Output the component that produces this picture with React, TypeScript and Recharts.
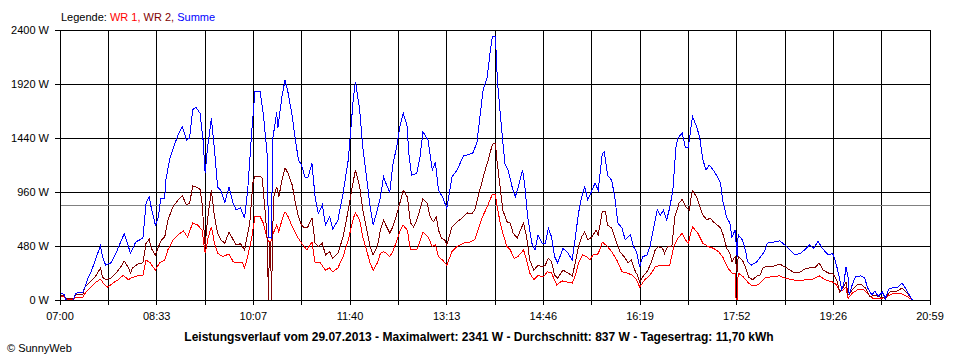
import { LineChart, Line, XAxis, YAxis, CartesianGrid, ReferenceLine } from "recharts";

// minutes after 07:00, watts
const wr1: [number, number][] = [
  [0, 35], [4, 35], [6, 5], [13, 5], [15, 25], [22, 25], [25, 70], [30, 115], [35, 160], [39, 185],
  [43, 135], [46, 115], [51, 150], [56, 180], [61, 220], [66, 180], [68, 195], [75, 215], [80, 220], [83, 355],
  [87, 330], [92, 265], [96, 330], [101, 355], [104, 445], [109, 535], [114, 580], [119, 615], [123, 560], [128, 685],
  [133, 665], [137, 620], [140, 415], [143, 560], [146, 650], [149, 505], [152, 415], [157, 385], [163, 410], [167, 340],
  [170, 330], [176, 330], [178, 285], [181, 385], [185, 560], [188, 740], [193, 740], [196, 685], [200, 535], [203, 505],
  [205, 580], [209, 665], [211, 605], [214, 710], [217, 785], [220, 740], [224, 650], [229, 560], [233, 505], [238, 445],
  [243, 515], [246, 330], [251, 330], [256, 265], [260, 285], [263, 250], [268, 285], [273, 385], [278, 535], [283, 730],
  [285, 775], [289, 710], [292, 560], [296, 430], [299, 330], [302, 265], [306, 330], [309, 415], [312, 430], [315, 415],
  [318, 385], [321, 430], [325, 535], [328, 620], [331, 665], [335, 620], [338, 445], [344, 445], [347, 515], [350, 605],
  [355, 560], [359, 475], [362, 490], [365, 385], [369, 355], [373, 310], [378, 430], [383, 475], [389, 505], [395, 515],
  [400, 535], [403, 620], [407, 730], [412, 830], [417, 940], [420, 935], [421, 860], [424, 710], [427, 595], [431, 475],
  [434, 450], [438, 370], [442, 390], [447, 445], [450, 355], [453, 240], [457, 180], [461, 220], [466, 205], [470, 250],
  [474, 240], [479, 135], [484, 170], [489, 160], [494, 150], [497, 220], [500, 330], [504, 400], [508, 385], [511, 355],
  [514, 400], [519, 410], [523, 515], [528, 475], [532, 430], [537, 355], [542, 250], [547, 240], [552, 220], [556, 180],
  [559, 115], [564, 180], [569, 220], [574, 295], [579, 310], [583, 310], [588, 310], [592, 475], [596, 550], [600, 595],
  [603, 535], [606, 505], [609, 620], [610, 650], [615, 595], [620, 505], [625, 475], [630, 460], [635, 430], [639, 385],
  [644, 285], [648, 240], [651, 240], [652, 0], [653, 0], [654, 240], [659, 205], [664, 150], [668, 125], [673, 135],
  [680, 195], [685, 205], [694, 215], [699, 195], [706, 180], [714, 170], [720, 185], [726, 185], [732, 215], [738, 180],
  [745, 160], [749, 135], [752, 70], [755, 90], [758, 115], [760, 15], [764, 60], [769, 90], [775, 90], [779, 55],
  [784, 15], [791, 10], [797, 30], [803, 55], [812, 55], [817, 30], [822, 0],
];

const wr2: [number, number][] = [
  [0, 40], [4, 40], [6, 10], [13, 10], [15, 45], [22, 45], [24, 115], [29, 160], [34, 205], [39, 285],
  [41, 205], [44, 180], [49, 195], [54, 240], [58, 285], [62, 345], [66, 285], [68, 240], [70, 285], [75, 320],
  [80, 330], [83, 505], [86, 540], [88, 460], [92, 400], [95, 475], [98, 535], [101, 560], [104, 710], [109, 830],
  [114, 890], [118, 925], [122, 845], [125, 860], [128, 1015], [131, 1005], [135, 985], [137, 860], [140, 475], [142, 695],
  [146, 975], [149, 740], [152, 595], [155, 535], [159, 505], [163, 605], [167, 535], [170, 490], [174, 500], [178, 445],
  [183, 685], [186, 1040], [188, 1100], [193, 1100], [195, 1085], [198, 770], [200, 515], [201, 0], [202, 515], [203, 515],
  [204, 0], [205, 550], [206, 915], [209, 1005], [211, 915], [214, 1065], [217, 1175], [220, 1125], [224, 1020], [227, 860],
  [230, 740], [233, 665], [236, 640], [239, 650], [243, 730], [246, 505], [249, 475], [253, 505], [256, 400], [260, 430],
  [263, 370], [268, 415], [273, 560], [278, 800], [283, 1065], [285, 1155], [289, 1005], [292, 800], [296, 620], [299, 475],
  [302, 400], [306, 475], [309, 620], [312, 710], [315, 650], [318, 595], [321, 650], [325, 770], [328, 870], [331, 975],
  [335, 915], [338, 685], [341, 650], [344, 710], [347, 800], [350, 900], [354, 860], [357, 740], [360, 695], [363, 740],
  [365, 620], [368, 550], [371, 535], [373, 490], [378, 650], [383, 695], [388, 730], [393, 775], [397, 765], [400, 800],
  [403, 915], [407, 1050], [410, 1155], [413, 1245], [417, 1385], [420, 1395], [421, 1270], [424, 1040], [427, 800], [431, 695],
  [434, 685], [437, 595], [441, 550], [444, 620], [447, 685], [450, 560], [453, 355], [457, 265], [461, 310], [465, 295],
  [468, 310], [471, 370], [474, 340], [477, 220], [480, 195], [485, 265], [490, 240], [494, 215], [497, 330], [500, 475],
  [503, 560], [506, 605], [509, 535], [513, 560], [517, 620], [519, 580], [523, 785], [526, 790], [528, 665], [532, 640],
  [537, 505], [540, 430], [544, 385], [548, 330], [551, 355], [555, 250], [557, 220], [559, 160], [562, 205], [567, 265],
  [571, 355], [574, 445], [577, 475], [581, 460], [583, 415], [586, 475], [590, 475], [593, 740], [597, 860], [600, 895],
  [604, 820], [607, 800], [609, 935], [610, 970], [614, 915], [617, 830], [620, 755], [624, 710], [627, 730], [630, 695],
  [634, 665], [637, 640], [639, 595], [643, 460], [646, 415], [648, 340], [651, 385], [653, 250], [654, 385], [658, 355],
  [661, 295], [664, 205], [668, 180], [673, 220], [675, 220], [678, 285], [682, 300], [688, 300], [694, 320], [699, 295],
  [704, 265], [709, 240], [714, 250], [718, 275], [723, 285], [728, 285], [732, 330], [736, 265], [741, 240], [745, 240],
  [749, 180], [752, 70], [755, 105], [758, 160], [760, 45], [764, 90], [769, 135], [773, 135], [777, 105], [781, 30],
  [786, 45], [791, 25], [796, 15], [800, 70], [807, 80], [812, 105], [817, 60], [822, 0],
];

const summe: [number, number][] = [
  [0, 60], [4, 50], [6, 0], [13, 0], [15, 60], [22, 70], [24, 115], [27, 195], [30, 250], [34, 355],
  [39, 480], [41, 385], [44, 310], [49, 330], [54, 415], [58, 505], [62, 590], [66, 475], [68, 415], [73, 515],
  [80, 550], [83, 860], [86, 915], [88, 820], [92, 665], [95, 740], [97, 900], [101, 905], [102, 1065], [106, 1260],
  [111, 1395], [114, 1470], [118, 1540], [122, 1420], [125, 1440], [128, 1690], [131, 1715], [135, 1660], [138, 1420], [140, 1125],
  [142, 1330], [146, 1615], [149, 1330], [152, 1005], [155, 975], [159, 870], [163, 1005], [167, 860], [170, 800], [174, 820],
  [178, 730], [181, 975], [185, 1510], [188, 1850], [193, 1850], [196, 1660], [200, 1275], [201, 560], [204, 550], [205, 1420],
  [209, 1670], [210, 1525], [214, 1805], [217, 1955], [220, 1840], [224, 1630], [227, 1420], [230, 1245], [233, 1200], [236, 1095],
  [239, 1085], [243, 1215], [246, 915], [249, 770], [253, 845], [256, 665], [260, 740], [263, 630], [268, 710], [273, 950],
  [278, 1245], [283, 1805], [285, 1940], [289, 1690], [292, 1360], [296, 1065], [299, 830], [302, 665], [306, 800], [309, 915],
  [312, 1095], [315, 1020], [318, 960], [321, 1200], [325, 1380], [328, 1555], [331, 1660], [335, 1540], [336, 1330], [339, 1110],
  [344, 1125], [347, 1260], [350, 1495], [355, 1420], [359, 1155], [362, 1225], [365, 975], [369, 915], [373, 815], [378, 1095],
  [383, 1155], [389, 1280], [393, 1290], [398, 1305], [402, 1395], [405, 1630], [408, 1865], [412, 1980], [415, 2220], [417, 2340],
  [420, 2341], [421, 2105], [422, 1930], [426, 1510], [429, 1215], [432, 1155], [436, 1005], [439, 915], [442, 1005], [446, 1155],
  [448, 1040], [451, 740], [455, 505], [458, 445], [461, 580], [465, 505], [468, 505], [471, 640], [474, 560], [477, 385],
  [480, 330], [485, 460], [490, 415], [494, 355], [497, 560], [500, 770], [503, 915], [506, 1005], [509, 890], [513, 975],
  [516, 1040], [519, 975], [523, 1305], [525, 1315], [528, 1110], [532, 1065], [535, 915], [538, 685], [542, 640], [545, 535],
  [550, 580], [553, 475], [556, 430], [559, 295], [562, 385], [566, 400], [569, 475], [572, 620], [576, 800], [579, 755],
  [582, 800], [585, 710], [588, 820], [591, 975], [594, 1360], [596, 1440], [600, 1485], [603, 1360], [606, 1360], [609, 1570],
  [610, 1630], [614, 1540], [617, 1440], [620, 1245], [623, 1155], [626, 1200], [630, 1155], [634, 1095], [637, 1040], [639, 890],
  [643, 730], [646, 685], [648, 560], [651, 620], [653, 385], [654, 580], [658, 535], [661, 445], [663, 340], [667, 310],
  [672, 340], [677, 400], [680, 445], [682, 505], [688, 515], [694, 525], [699, 490], [704, 445], [709, 400], [714, 415],
  [718, 445], [723, 490], [727, 460], [731, 525], [735, 460], [738, 430], [741, 400], [745, 415], [747, 370], [750, 265],
  [754, 90], [756, 150], [758, 295], [760, 205], [761, 45], [764, 135], [767, 205], [772, 215], [776, 195], [779, 105],
  [783, 45], [786, 80], [789, 30], [793, 70], [796, 15], [799, 95], [803, 110], [808, 115], [812, 150], [815, 110],
  [818, 60], [822, 0],
];

const xTickLabels = ["07:00", "08:33", "10:07", "11:40", "13:13", "14:46", "16:19", "17:52", "19:26", "20:59"];
const yTicks = [0, 480, 960, 1440, 1920, 2400];
const spanMinutes = 839; // 07:00 .. 20:59
const average = 837;

const font = '"Liberation Sans", Arial, sans-serif';
const xTicks = Array.from({ length: 19 }, (_, k) => (k * spanMinutes) / 18);
const toPoints = (rows: [number, number][]) => rows.map(([t, w]) => ({ t, w }));

const App = () => {
  return (
    <div style={{ position: "absolute", left: 0, top: 0, width: 960, height: 360, background: "#fff" }}>
      <style>{`.recharts-surface line, .recharts-surface path { shape-rendering: crispEdges; }`}</style>
      <LineChart width={960} height={360} margin={{ top: 30, right: 30, bottom: 0, left: 0 }}>
        <CartesianGrid stroke="#000" strokeOpacity={1} />
        <XAxis
          dataKey="t"
          type="number"
          domain={[0, spanMinutes]}
          ticks={xTicks}
          interval={0}
          height={60}
          tickSize={5}
          tickMargin={7}
          stroke="#000"
          tick={{ fill: "#000", fontSize: 11, fontFamily: font }}
          tickFormatter={(_v: number, i: number) => (i % 2 === 0 ? xTickLabels[i / 2] : "")}
        />
        <YAxis
          type="number"
          domain={[0, 2400]}
          ticks={yTicks}
          interval={0}
          width={60}
          tickSize={5}
          tickMargin={6}
          stroke="#000"
          tick={{ fill: "#000", fontSize: 11, fontFamily: font }}
          tickFormatter={(v: number) => `${v} W`}
        />
        <ReferenceLine y={average} stroke="#808080" strokeWidth={1} />
        <Line data={toPoints(wr1)} dataKey="w" type="linear" stroke="#ff0000" strokeWidth={1} dot={false} isAnimationActive={false} />
        <Line data={toPoints(wr2)} dataKey="w" type="linear" stroke="#800000" strokeWidth={1} dot={false} isAnimationActive={false} />
        <Line data={toPoints(summe)} dataKey="w" type="linear" stroke="#0000ff" strokeWidth={1} dot={false} isAnimationActive={false} />
      </LineChart>
      <svg width={960} height={360} style={{ position: "absolute", left: 0, top: 0, pointerEvents: "none" }}>
        <text x={61} y={21} fontSize={11} fontFamily={font} fill="#000">
          Legende: <tspan fill="#ff0000">WR 1,</tspan> <tspan fill="#800000">WR 2,</tspan> <tspan fill="#0000ff">Summe</tspan>
        </text>
        <text x={479} y={341} fontSize={12} fontWeight="bold" fontFamily={font} fill="#000" textAnchor="middle">
          Leistungsverlauf vom 29.07.2013 - Maximalwert: 2341 W - Durchschnitt: 837 W - Tagesertrag: 11,70 kWh
        </text>
        <text x={7} y={352} fontSize={11} fontFamily={font} fill="#000">
          © SunnyWeb
        </text>
      </svg>
    </div>
  );
};

export default App;
